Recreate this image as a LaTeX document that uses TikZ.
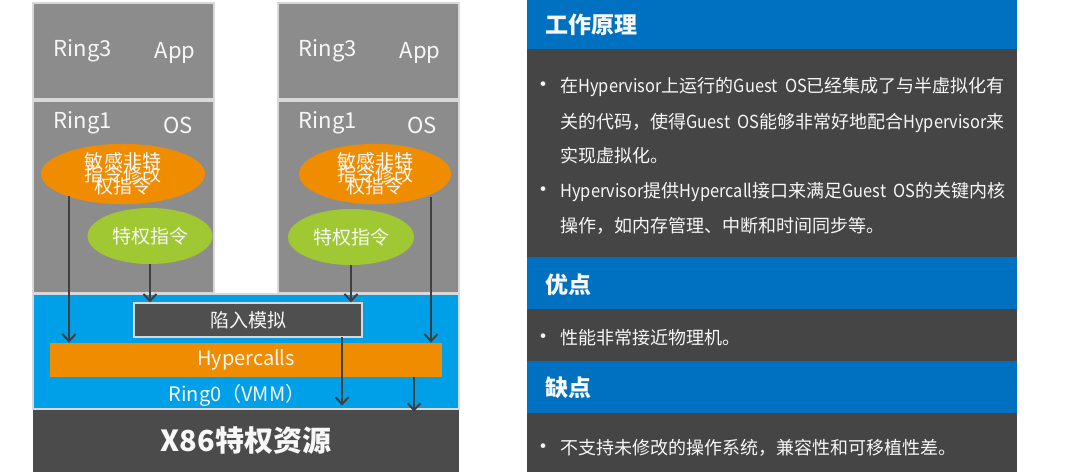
\documentclass[tikz,border=0pt]{standalone}
\usepackage{fontspec}
\setmainfont{Noto Sans CJK SC}
\newfontfamily\latnarrow[FakeStretch=0.91]{Noto Sans CJK SC}
\newcommand{\lt}[1]{{\latnarrow #1}}
\newcommand{\tightlines}{\lineskiplimit=-20pt\relax\lineskip=0pt\relax}
\newcommand{\sensitivetext}{\raisebox{-2pt}{\parbox{40pt}{\centering\fontsize{9.5}{6.25}\selectfont\tightlines 敏感非特\\指令修改\\权指令}}}
\usetikzlibrary{arrows.meta,shapes.geometric}
\definecolor{boxgray}{HTML}{8C8C8C}
\definecolor{edgegray}{HTML}{D9D9D9}
\definecolor{ringblue}{HTML}{00A0E9}
\definecolor{orng}{HTML}{F08C00}
\definecolor{grn}{HTML}{A0C832}
\definecolor{darkres}{HTML}{4B4B4B}
\definecolor{trapfill}{HTML}{4F4F4F}
\definecolor{arrowgray}{HTML}{3F3F3F}
\definecolor{hdrblue}{HTML}{0070C0}
\definecolor{bodydark}{HTML}{454545}
\definecolor{txtw}{HTML}{F7F7F7}
\begin{document}
\begin{tikzpicture}[x=0.5pt,y=-0.5pt,
  graybox/.style={draw=edgegray,line width=0.6pt,fill=boxgray,inner sep=0pt,minimum width=90.5pt},
  lbl/.style={text=txtw,font=\fontsize{11}{13}\selectfont,inner sep=0pt},
  oval/.style={ellipse,inner sep=0pt,minimum height=28pt,text=txtw,align=center},
  arr/.style={draw=arrowgray,line width=1pt,-{Straight Barb[length=3.5pt,width=6.5pt,line width=1pt]}},
  hdr/.style={fill=hdrblue,inner sep=0pt,minimum width=245pt},
  bdy/.style={fill=bodydark,inner sep=0pt,minimum width=245pt},
  hdrtxt/.style={anchor=west,text=txtw,font=\fontsize{11.5}{13}\selectfont\bfseries,inner sep=0pt},
  bodytxt/.style={anchor=west,text=txtw,font=\fontsize{9}{10}\selectfont,inner sep=0pt,text height=7.2pt,text depth=1.8pt},
  bul/.style={text=txtw,font=\fontsize{11}{12}\selectfont,inner sep=0pt}
]
\useasboundingbox[fill=white] (0,0) rectangle (1080,472);

% left diagram
\node[graybox,minimum height=48pt] (appL) at (123.5,51) {};
\node[graybox,minimum height=96pt] (osL) at (123.5,197) {};
\node[graybox,minimum height=48pt] (appR) at (368.5,51) {};
\node[graybox,minimum height=96pt] (osR) at (368.5,197) {};
\node[draw=edgegray,line width=0.6pt,fill=ringblue,inner sep=0pt,minimum width=213pt,minimum height=57.5pt] (ring0) at (246,351.5) {};
\node[fill=darkres,inner sep=0pt,minimum width=213pt,minimum height=31pt,text=txtw,font=\fontsize{14.5}{16}\selectfont\bfseries] (x86) at (246,441) {X86特权资源};
\node[draw=edgegray,line width=0.6pt,fill=trapfill,inner sep=0pt,minimum width=114pt,minimum height=17pt,text=txtw,font=\fontsize{9.5}{11}\selectfont] (trap) at (248,320) {陷入模拟};
\node[fill=orng,inner sep=0pt,minimum width=196pt,minimum height=17pt,text=txtw,font=\fontsize{10}{12}\selectfont] (hyper) at (246,360) {Hypercalls};
\node[lbl,font=\fontsize{10}{12}\selectfont] (r0txt) at (237,395) {Ring0（VMM）};

\node[lbl] (ring3L) at (83,51) {Ring3};
\node[lbl] (appLt) at (175,53) {App};
\node[lbl] (ring1L) at (83,123) {Ring1};
\node[lbl] (osLt) at (178,125) {OS};
\node[lbl] (ring3R) at (328,51) {Ring3};
\node[lbl] (appRt) at (420,53) {App};
\node[lbl] (ring1R) at (328,123) {Ring1};
\node[lbl] (osRt) at (422,125) {OS};

\node[oval,fill=orng,minimum width=82pt] (orangeL) at (123,174) {\sensitivetext};
\node[oval,fill=orng,minimum width=76pt] (orangeR) at (375,174) {\sensitivetext};
\node[oval,fill=grn,minimum width=62.5pt,font=\fontsize{9.5}{11}\selectfont] (greenL) at (150,236) {特权指令};
\node[oval,fill=grn,minimum width=63pt,font=\fontsize{9.5}{11}\selectfont] (greenR) at (351,237) {特权指令};

% arrows
\coordinate (a1) at (69,196);
\coordinate (a4) at (431,197);
\draw[arr] (a1) -- (a1 |- hyper.north);
\draw[arr] (greenL.south) -- (greenL.south |- trap.north);
\draw[arr] (greenR.south) -- (greenR.south |- trap.north);
\draw[arr] (a4) -- (a4 |- hyper.north);
\coordinate (a5) at (342,337);
\draw[arr,shorten >=2pt] (a5) -- (a5 |- x86.north);
\coordinate (a6) at (414,377);
\draw[arr,shorten >=-1pt] (a6) -- (a6 |- x86.north);

% right panel
\node[hdr,minimum height=24.5pt] (h1) at (772,24.5) {};
\node[bdy,minimum height=104pt] (b1) at (772,153) {};
\node[hdr,minimum height=26pt] (h2) at (772,283) {};
\node[bdy,minimum height=26pt] (b2) at (772,335) {};
\node[hdr,minimum height=26pt] (h3) at (772,387) {};
\node[bdy,minimum height=29.5pt] (b3) at (772,442.5) {};

\node[hdrtxt] (h1t) at (545,25) {工作原理};
\node[hdrtxt] (h2t) at (545,285) {优点};
\node[hdrtxt] (h3t) at (545,388) {缺点};

\node[bul] (bu1) at (543,87) {•};
\node[bodytxt] (l1) at (560,87) {在\lt{Hypervisor}上运行的\lt{Guest\ \ OS}已经集成了与半虚拟化有};
\node[bodytxt] (l2) at (560,123) {关的代码，使得\lt{Guest\ \ OS}能够非常好地配合\lt{Hypervisor}来};
\node[bodytxt] (l3) at (560,157) {实现虚拟化。};
\node[bul] (bu2) at (543,192) {•};
\node[bodytxt] (l4) at (560,192) {\lt{Hypervisor}提供\lt{Hypercall}接口来满足\lt{Guest\ \ OS}的关键内核};
\node[bodytxt] (l5) at (560,227) {操作，如内存管理、中断和时间同步等。};
\node[bul] (bu3) at (543,339) {•};
\node[bodytxt] (l6) at (560,339) {性能非常接近物理机。};
\node[bul] (bu4) at (543,449) {•};
\node[bodytxt] (l7) at (560,449) {不支持未修改的操作系统，兼容性和可移植性差。};
\end{tikzpicture}
\end{document}
